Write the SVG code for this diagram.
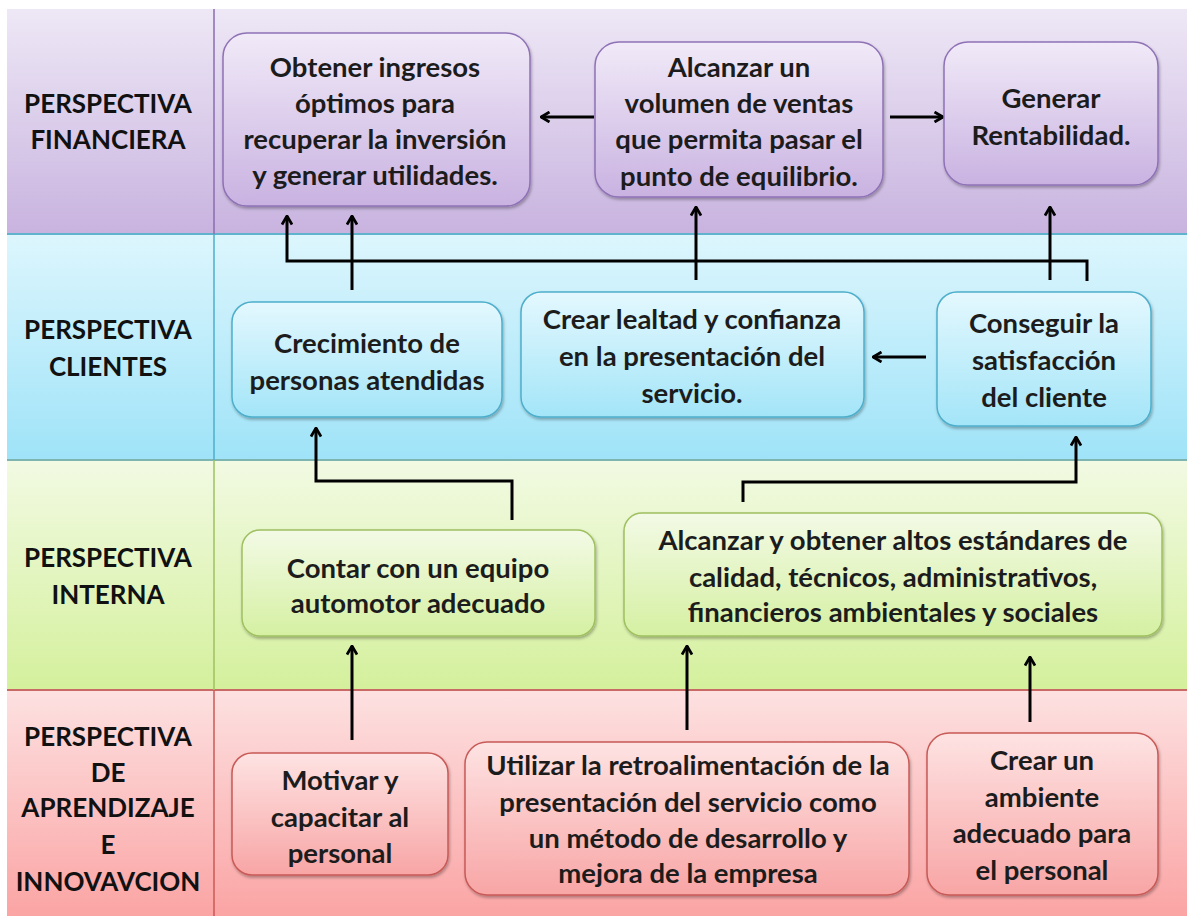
<svg xmlns="http://www.w3.org/2000/svg" width="1187" height="916" viewBox="0 0 1187 916">
<defs>
<linearGradient id="bP" x1="0" y1="0" x2="0" y2="1"><stop offset="0" stop-color="#eee8f6"/><stop offset="1" stop-color="#c8b3df"/></linearGradient>
<linearGradient id="bB" x1="0" y1="0" x2="0" y2="1"><stop offset="0" stop-color="#ddf6fd"/><stop offset="1" stop-color="#9fe3f8"/></linearGradient>
<linearGradient id="bG" x1="0" y1="0" x2="0" y2="1"><stop offset="0" stop-color="#f2fae3"/><stop offset="1" stop-color="#d4f09c"/></linearGradient>
<linearGradient id="bR" x1="0" y1="0" x2="0" y2="1"><stop offset="0" stop-color="#fde1e1"/><stop offset="1" stop-color="#fba4a4"/></linearGradient>
<linearGradient id="nP" x1="0" y1="0" x2="0" y2="1"><stop offset="0" stop-color="#f1eaf8"/><stop offset="1" stop-color="#c9b2e1"/></linearGradient>
<linearGradient id="nB" x1="0" y1="0" x2="0" y2="1"><stop offset="0" stop-color="#e4f8fe"/><stop offset="1" stop-color="#a3e5f8"/></linearGradient>
<linearGradient id="nG" x1="0" y1="0" x2="0" y2="1"><stop offset="0" stop-color="#f3fae6"/><stop offset="1" stop-color="#d5f0a2"/></linearGradient>
<linearGradient id="nR" x1="0" y1="0" x2="0" y2="1"><stop offset="0" stop-color="#fee3e3"/><stop offset="1" stop-color="#f8a5a5"/></linearGradient>
<filter id="sh" x="-10%" y="-10%" width="120%" height="130%"><feDropShadow dx="1" dy="2" stdDeviation="1.5" flood-color="#000" flood-opacity="0.3"/></filter>
<marker id="ah" viewBox="0 0 12 12" refX="10.5" refY="6" markerWidth="12" markerHeight="12" markerUnits="userSpaceOnUse" orient="auto">
<path d="M2,1 L10.5,6 L2,11" fill="none" stroke="#000" stroke-width="2.8" stroke-linejoin="miter"/>
</marker>
</defs>
<style>
.t{font-family:Lato,"Open Sans","Liberation Sans",sans-serif;font-weight:bold;font-size:27.5px;fill:#1c1c1c;text-anchor:middle}
.lb{font-family:Lato,"Open Sans","Liberation Sans",sans-serif;font-weight:bold;font-size:26px;fill:#111;text-anchor:middle}
.nP{fill:url(#nP);stroke:#8f72b6;stroke-width:1.5;filter:url(#sh)}
.nB{fill:url(#nB);stroke:#4eaecb;stroke-width:1.5;filter:url(#sh)}
.nG{fill:url(#nG);stroke:#9fc060;stroke-width:1.5;filter:url(#sh)}
.nR{fill:url(#nR);stroke:#c85a57;stroke-width:1.5;filter:url(#sh)}
.c{fill:none;stroke:#000;stroke-width:3}
.ca{fill:none;stroke:#000;stroke-width:3;marker-end:url(#ah)}
</style>
<rect width="1187" height="916" fill="#fff"/>
<g id="bands">
<rect x="7" y="9" width="1180" height="225" fill="url(#bP)"/>
<rect x="7" y="234" width="1180" height="226" fill="url(#bB)"/>
<rect x="7" y="460" width="1180" height="230" fill="url(#bG)"/>
<rect x="7" y="690" width="1180" height="226" fill="url(#bR)"/>
<line x1="7" y1="234" x2="1187" y2="234" stroke="#5fb3cc" stroke-width="2"/>
<line x1="7" y1="460" x2="1187" y2="460" stroke="#7fb5b0" stroke-width="2"/>
<line x1="7" y1="690" x2="1187" y2="690" stroke="#c96a66" stroke-width="2"/>
<line x1="214" y1="9" x2="214" y2="234" stroke="#8a6cb0" stroke-width="1.5"/>
<line x1="214" y1="234" x2="214" y2="460" stroke="#4eaecb" stroke-width="1.5"/>
<line x1="214" y1="460" x2="214" y2="690" stroke="#9fc060" stroke-width="1.5"/>
<line x1="214" y1="690" x2="214" y2="916" stroke="#c85a57" stroke-width="1.5"/>
</g>
<g id="labels">
<text class="lb" x="108" y="113">PERSPECTIVA</text>
<text class="lb" x="108" y="149">FINANCIERA</text>
<text class="lb" x="108" y="339">PERSPECTIVA</text>
<text class="lb" x="108" y="376">CLIENTES</text>
<text class="lb" x="108" y="567">PERSPECTIVA</text>
<text class="lb" x="108" y="604">INTERNA</text>
<text class="lb" x="108" y="746">PERSPECTIVA</text>
<text class="lb" x="108" y="782">DE</text>
<text class="lb" x="108" y="817">APRENDIZAJE</text>
<text class="lb" x="108" y="854">E</text>
<text class="lb" x="108" y="891">INNOVAVCION</text>
</g>
<g id="connectors">
<path class="ca" d="M594,117 L541,117"/>
<path class="ca" d="M890,117 L943,117"/>
<path class="ca" d="M1087,281 L1087,261 L287,261 L287,216"/>
<path class="ca" d="M352,290 L352,216"/>
<path class="ca" d="M696,280 L696,207"/>
<path class="ca" d="M1050,280 L1050,207"/>
<path class="ca" d="M926,357 L873,357"/>
<path class="ca" d="M512,520 L512,481 L316,481 L316,428"/>
<path class="ca" d="M743,502 L743,482 L1076,482 L1076,437"/>
<path class="ca" d="M352,740 L352,646"/>
<path class="ca" d="M687,730 L687,646"/>
<path class="ca" d="M1030,722 L1030,657"/>
</g>
<g id="n-ingresos">
<rect class="nP" x="223" y="33" width="307" height="173" rx="24"/>
<text class="t" x="375" y="77">Obtener ingresos</text>
<text class="t" x="375" y="113">óptimos para</text>
<text class="t" x="375" y="149">recuperar la inversión</text>
<text class="t" x="375" y="185">y generar utilidades.</text>
</g>
<g id="n-ventas">
<rect class="nP" x="595" y="42" width="288" height="155" rx="24"/>
<text class="t" x="739" y="77">Alcanzar un</text>
<text class="t" x="739" y="113">volumen de ventas</text>
<text class="t" x="739" y="149">que permita pasar el</text>
<text class="t" x="739" y="186">punto de equilibrio.</text>
</g>
<g id="n-rentabilidad">
<rect class="nP" x="944" y="42" width="214" height="143" rx="24"/>
<text class="t" x="1051" y="108">Generar</text>
<text class="t" x="1051" y="145">Rentabilidad.</text>
</g>
<g id="n-crecimiento">
<rect class="nB" x="232" y="302" width="270" height="115" rx="20"/>
<text class="t" x="367" y="353">Crecimiento de</text>
<text class="t" x="367" y="390">personas atendidas</text>
</g>
<g id="n-lealtad">
<rect class="nB" x="521" y="292" width="343" height="125" rx="20"/>
<text class="t" x="692" y="329">Crear lealtad y confianza</text>
<text class="t" x="692" y="366">en la presentación del</text>
<text class="t" x="692" y="403">servicio.</text>
</g>
<g id="n-satisfaccion">
<rect class="nB" x="937" y="292" width="214" height="134" rx="20"/>
<text class="t" x="1044" y="333">Conseguir la</text>
<text class="t" x="1044" y="370">satisfacción</text>
<text class="t" x="1044" y="407">del cliente</text>
</g>
<g id="n-equipo">
<rect class="nG" x="242" y="530" width="353" height="106" rx="18"/>
<text class="t" x="418" y="578">Contar con un equipo</text>
<text class="t" x="418" y="613">automotor adecuado</text>
</g>
<g id="n-estandares">
<rect class="nG" x="624" y="513" width="538" height="123" rx="18"/>
<text class="t" x="893" y="550">Alcanzar y obtener altos estándares de</text>
<text class="t" x="893" y="587">calidad, técnicos, administrativos,</text>
<text class="t" x="893" y="622">financieros ambientales y sociales</text>
</g>
<g id="n-motivar">
<rect class="nR" x="232" y="753" width="216" height="122" rx="20"/>
<text class="t" x="340" y="790">Motivar y</text>
<text class="t" x="340" y="827">capacitar al</text>
<text class="t" x="340" y="863">personal</text>
</g>
<g id="n-retro">
<rect class="nR" x="465" y="742" width="444" height="153" rx="22"/>
<text class="t" x="688" y="775">Utilizar la retroalimentación de la</text>
<text class="t" x="688" y="812">presentación del servicio como</text>
<text class="t" x="688" y="848">un método de desarrollo y</text>
<text class="t" x="688" y="883">mejora de la empresa</text>
</g>
<g id="n-ambiente">
<rect class="nR" x="927" y="733" width="231" height="162" rx="22"/>
<text class="t" x="1042" y="770">Crear un</text>
<text class="t" x="1042" y="807">ambiente</text>
<text class="t" x="1042" y="843">adecuado para</text>
<text class="t" x="1042" y="880">el personal</text>
</g>
</svg>
